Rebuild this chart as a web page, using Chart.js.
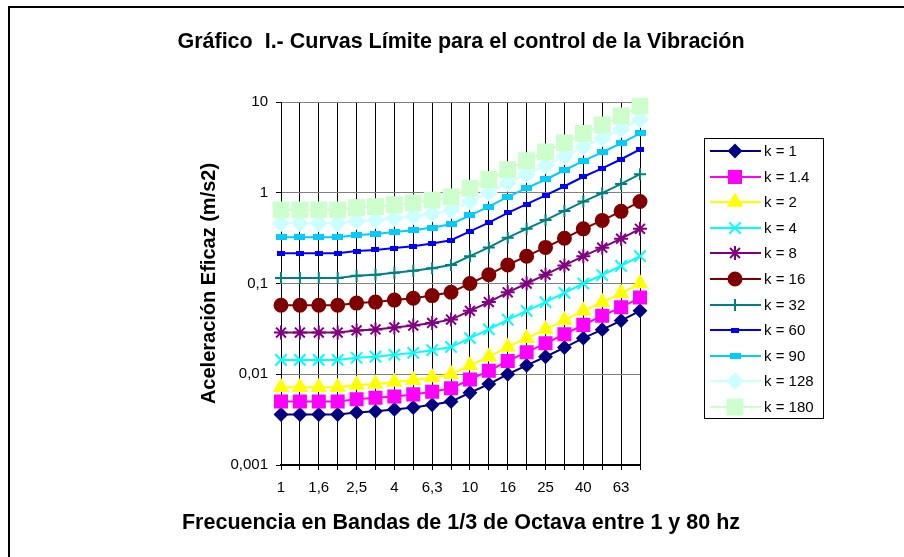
<!DOCTYPE html>
<html>
<head>
<meta charset="utf-8">
<script src="https://cdn.jsdelivr.net/npm/chart.js@4/dist/chart.umd.min.js"></script>
<style>
html, body { margin: 0; padding: 0; background: #fff; }
canvas { display: block; }
</style>
</head>
<body>
<canvas id="myChart" width="904" height="557"></canvas>
<script>
// bandas de 1/3 de octava (Hz)
const bandas = ['1', '1,25', '1,6', '2', '2,5', '3,15', '4', '5', '6,3', '8', '10', '12,5', '16', '20', '25', '31,5', '40', '50', '63', '80'];

// aceleracion eficaz (m/s2), una curva por k
const k1   = [0.0036, 0.0036, 0.0036, 0.0036, 0.0038, 0.0039, 0.0041, 0.0043, 0.0046, 0.005, 0.00625, 0.0078, 0.01, 0.0125, 0.0156, 0.0197, 0.025, 0.031, 0.039, 0.05];
const k1_4 = [0.005, 0.005, 0.005, 0.005, 0.0053, 0.0055, 0.0057, 0.006, 0.0064, 0.007, 0.00875, 0.0109, 0.014, 0.0175, 0.0219, 0.0276, 0.035, 0.0441, 0.0546, 0.07];
const k2   = [0.0072, 0.0072, 0.0072, 0.0072, 0.0076, 0.0078, 0.0082, 0.0086, 0.0092, 0.01, 0.0125, 0.0156, 0.02, 0.025, 0.0312, 0.0394, 0.05, 0.062, 0.078, 0.1];
const k4   = [0.0144, 0.0144, 0.0144, 0.0144, 0.0152, 0.0156, 0.0164, 0.0172, 0.0184, 0.02, 0.025, 0.0312, 0.04, 0.05, 0.0624, 0.0788, 0.1, 0.124, 0.156, 0.2];
const k8   = [0.0288, 0.0288, 0.0288, 0.0288, 0.0304, 0.0312, 0.0328, 0.0344, 0.0368, 0.04, 0.05, 0.0624, 0.08, 0.1, 0.125, 0.158, 0.2, 0.248, 0.312, 0.4];
const k16  = [0.0576, 0.0576, 0.0576, 0.0576, 0.0608, 0.0624, 0.0656, 0.0688, 0.0736, 0.08, 0.1, 0.125, 0.16, 0.2, 0.25, 0.315, 0.4, 0.496, 0.624, 0.8];
const k32  = [0.115, 0.115, 0.115, 0.115, 0.122, 0.125, 0.131, 0.138, 0.147, 0.16, 0.2, 0.25, 0.32, 0.4, 0.5, 0.63, 0.8, 0.99, 1.25, 1.6];
const k60  = [0.216, 0.216, 0.216, 0.216, 0.228, 0.234, 0.246, 0.258, 0.276, 0.3, 0.375, 0.468, 0.6, 0.75, 0.936, 1.18, 1.5, 1.86, 2.34, 3];
const k90  = [0.324, 0.324, 0.324, 0.324, 0.342, 0.351, 0.369, 0.387, 0.414, 0.45, 0.563, 0.702, 0.9, 1.125, 1.4, 1.77, 2.25, 2.79, 3.51, 4.5];
const k128 = [0.461, 0.461, 0.461, 0.461, 0.486, 0.499, 0.525, 0.55, 0.589, 0.64, 0.8, 0.998, 1.28, 1.6, 2.0, 2.52, 3.2, 3.97, 4.99, 6.4];
const k180 = [0.648, 0.648, 0.648, 0.648, 0.684, 0.702, 0.738, 0.774, 0.828, 0.9, 1.125, 1.4, 1.8, 2.25, 2.81, 3.55, 4.5, 5.58, 7.02, 9];

const nombres = ['k = 1', 'k = 1.4', 'k = 2', 'k = 4', 'k = 8', 'k = 16', 'k = 32', 'k = 60', 'k = 90', 'k = 128', 'k = 180'];
const series = [k1, k1_4, k2, k4, k8, k16, k32, k60, k90, k128, k180];

const yTicks = [0.001, 0.01, 0.1, 1, 10];
const yTickLabels = ['0,001', '0,01', '0,1', '1', '10'];

const titulo = 'Gráfico  I.- Curvas Límite para el control de la Vibración';
const tituloX = 'Frecuencia en Bandas de 1/3 de Octava entre 1 y 80 hz';

// marcador tipo "guion" de Excel
function barra(w, h, color) {
    const cv = document.createElement('canvas');
    cv.width = w; cv.height = h;
    const c = cv.getContext('2d');
    c.fillStyle = color;
    c.fillRect(0, 0, w, h);
    return cv;
}

const colores = ['#000080', '#FF00FF', '#FFFF00', '#00FFFF', '#800080', '#800000', '#008080', '#0000FF', '#00CCFF', '#CCFFFF', '#CCFFCC'];
const marcadores = ['rectRot', 'rect', 'triangle', 'crossRot', 'star', 'circle', 'cross',
    barra(8, 5, '#0000FF'), barra(11, 6, '#00CCFF'), 'rectRot', 'rect'];
const radios = [6, 8.5, 7.5, 8, 7, 6.5, 6, 5, 6, 7.5, 10.5];

const FUENTE = '"Liberation Sans", Arial, sans-serif';
Chart.defaults.font.family = FUENTE;
Chart.defaults.color = '#000';

const datasets = series.map((d, i) => ({
    label: nombres[i],
    data: d,
    borderColor: colores[i],
    backgroundColor: colores[i],
    borderWidth: 2,
    pointStyle: marcadores[i],
    pointRadius: radios[i],
    pointBackgroundColor: colores[i],
    pointBorderColor: colores[i],
    pointBorderWidth: 2,
    tension: 0,
    clip: false,
    order: series.length - 1 - i
}));

const marco = {
    id: 'marco',
    beforeDraw(chart) {
        const c = chart.ctx;
        c.save();
        c.fillStyle = '#fff';
        c.fillRect(0, 0, chart.width, chart.height);
        c.strokeStyle = '#000';
        c.lineWidth = 2;
        c.strokeRect(9, 7, chart.width + 20, chart.height + 20);
        c.restore();
    },
    afterDraw(chart) {
        const c = chart.ctx;
        c.save();
        // titulos (sin maxWidth para que no se compriman)
        c.fillStyle = '#000';
        c.textAlign = 'center';
        c.textBaseline = 'middle';
        c.font = 'bold 21.5px ' + FUENTE;
        c.fillText(titulo, 461, 42);
        c.fillText(tituloX, 461, 523);

        // leyenda
        c.strokeStyle = '#000';
        c.lineWidth = 1;
        c.strokeRect(704.5, 138.5, 119, 280);
        chart.data.datasets.forEach((ds, i) => {
            const y = Math.round(151 + i * 25.6);
            c.strokeStyle = ds.borderColor;
            c.lineWidth = 2;
            c.beginPath();
            c.moveTo(710, y);
            c.lineTo(761, y);
            c.stroke();
            c.fillStyle = ds.pointBackgroundColor;
            c.strokeStyle = ds.pointBorderColor;
            c.lineWidth = ds.pointBorderWidth;
            Chart.helpers.drawPoint(c, {
                pointStyle: ds.pointStyle,
                radius: ds.pointRadius,
                borderWidth: ds.pointBorderWidth,
                rotation: 0
            }, 735, y);
            c.fillStyle = '#000';
            c.font = '15px ' + FUENTE;
            c.textBaseline = 'middle';
            c.textAlign = 'left';
            c.fillText(ds.label, 764, y + 1);
        });
        c.restore();
    }
};

const ctx = document.getElementById('myChart').getContext('2d');
new Chart(ctx, {
    type: 'line',
    data: { labels: bandas, datasets: datasets },
    plugins: [marco],
    options: {
        responsive: false,
        devicePixelRatio: 1,
        animation: false,
        events: [],
        layout: { padding: { left: 190, right: 264, top: 102, bottom: 0 } },
        plugins: {
            legend: { display: false },
            tooltip: { enabled: false },
            title: { display: false }
        },
        scales: {
            x: {
                offset: false,
                grid: { color: '#000', lineWidth: 1, tickLength: 5, tickColor: '#000' },
                border: { color: '#000', width: 2 },
                ticks: {
                    autoSkip: false,
                    maxRotation: 0,
                    padding: 9,
                    font: { size: 15 },
                    callback: (v, i) => (i % 2 === 0 ? bandas[i] : '')
                },
                afterFit(scale) { scale.height = 92; }
            },
            y: {
                type: 'logarithmic',
                min: 0.001,
                max: 10,
                grid: { color: '#808080', lineWidth: 1, tickLength: 5, tickColor: '#000' },
                border: { color: '#000', width: 1 },
                afterBuildTicks(scale) { scale.ticks = yTicks.map(v => ({ value: v })); },
                ticks: {
                    padding: 8,
                    font: { size: 15 },
                    callback: (v) => yTickLabels[yTicks.indexOf(v)]
                },
                title: {
                    display: true,
                    text: 'Aceleración Eficaz (m/s2)',
                    font: { size: 20, weight: 'bold' },
                    padding: { top: 7, bottom: 0 }
                },
                afterFit(scale) { scale.width = 91; }
            }
        }
    }
});
</script>
</body>
</html>
